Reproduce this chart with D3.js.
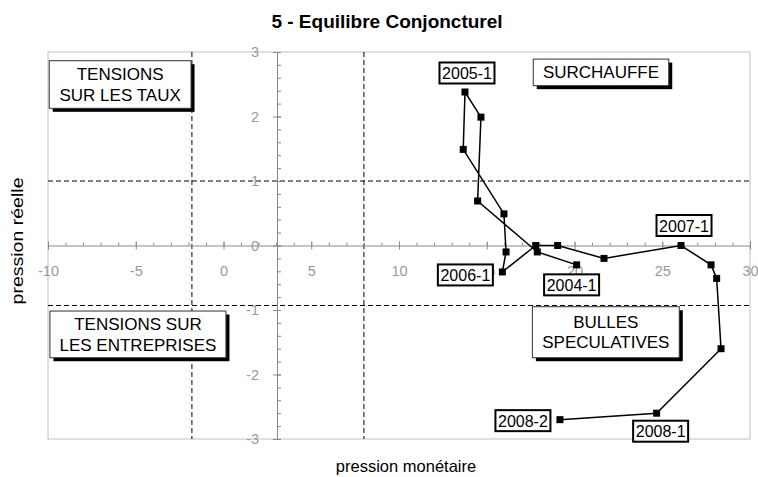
<!DOCTYPE html>
<html>
<head>
<meta charset="utf-8">
<script src="https://cdn.jsdelivr.net/npm/d3@7"></script>
<style>
  body { margin: 0; background: #fff; }
  svg { display: block; font-family: "Liberation Sans", Arial, sans-serif; }
</style>
</head>
<body>
<svg id="chart" width="758" height="477"></svg>
<script>
// Quarters and their coordinates (pression monétaire, pression réelle)
const quarters = [
  '2004-1', '2004-2', '2004-3', '2004-4',
  '2005-1', '2005-2', '2005-3', '2005-4',
  '2006-1', '2006-2', '2006-3', '2006-4',
  '2007-1', '2007-2', '2007-3', '2007-4',
  '2008-1', '2008-2'
];
const monetaire = [
  20.12, 17.88, 14.48, 14.67,
  13.76, 13.66, 15.98, 16.10,
  15.89, 17.79, 19.04, 21.68,
  26.07, 27.78, 28.10, 28.35,
  24.68, 19.17
];
const reelle = [
  -0.30, -0.10, 0.69, 1.99,
  2.38, 1.49, 0.49, -0.10,
  -0.41, 0.00, 0.00, -0.20,
  0.00, -0.30, -0.51, -1.60,
  -2.60, -2.70
];

// Quarters that carry a label
const labelled = ['2004-1', '2005-1', '2006-1', '2007-1', '2008-1', '2008-2'];

// Axis ticks
const xTicks = [-10, -5, 0, 5, 10, 15, 20, 25, 30];
const yTicks = [-3, -2, -1, 0, 1, 2, 3];

// Where the y axis crosses, and the dashed reference lines
const xCross = 3.05;
const xRefs = [-1.8, 8.0];
const yRefs = [1.0, -0.93];

// Quadrant captions
const quadrants = [
  { lines: ['TENSIONS', 'SUR LES TAUX'], x0: -9.93, x1: -1.85, y0: 2.865, y1: 2.127 },
  { lines: ['SURCHAUFFE'], x0: 17.65, x1: 25.37, y0: 2.89, y1: 2.478 },
  { lines: ['TENSIONS SUR', 'LES ENTREPRISES'], x0: -9.89, x1: 0.14, y0: -1.016, y1: -1.74 },
  { lines: ['BULLES', 'SPECULATIVES'], x0: 17.6, x1: 25.97, y0: -0.949, y1: -1.74 }
];

const LEFT = 48;
const RIGHT = 750;
const TOP = 52;
const BOTTOM = 439;

// Label placement relative to its point, in pixels
const LABEL_OFFSET = {
  '2004-1': [-5, 20],
  '2005-1': [2, -19],
  '2006-1': [-37, 3],
  '2007-1': [3, -20],
  '2008-1': [4, 18],
  '2008-2': [-37, 1]
};

const points = quarters.map((q, i) => ({ q, x: monetaire[i], y: reelle[i] }));

// Plain hyphen for negatives, like the spreadsheet does
const fmt = d => String(d);

const svg = d3.select('#chart');

const x = d3.scaleLinear().domain([-10, 30]).range([LEFT, RIGHT]);
const y = d3.scaleLinear().domain([-3, 3]).range([BOTTOM, TOP]);

// Title
svg.append('text')
  .attr('x', 387)
  .attr('y', 28)
  .attr('text-anchor', 'middle')
  .attr('font-size', 19)
  .attr('font-weight', 'bold')
  .text('5 - Equilibre Conjoncturel');

// Plot frame
svg.append('rect')
  .attr('x', LEFT)
  .attr('y', TOP)
  .attr('width', RIGHT - LEFT)
  .attr('height', BOTTOM - TOP)
  .attr('fill', 'none')
  .attr('stroke', '#c0c0c0');

// Dashed reference lines
svg.selectAll('line.xref')
  .data(xRefs)
  .join('line')
    .attr('class', 'xref')
    .attr('x1', d => x(d)).attr('x2', d => x(d))
    .attr('y1', TOP).attr('y2', BOTTOM)
    .attr('stroke', '#000')
    .attr('stroke-dasharray', '5,3');

svg.selectAll('line.yref')
  .data(yRefs)
  .join('line')
    .attr('class', 'yref')
    .attr('x1', LEFT).attr('x2', RIGHT)
    .attr('y1', d => y(d)).attr('y2', d => y(d))
    .attr('stroke', '#000')
    .attr('stroke-dasharray', '5,3');

// X axis (minor ticks up, major ticks across)
const xMinor = d3.range(-10, 31, 1);
const xAxisG = svg.append('g').attr('transform', `translate(0,${y(0)})`);
xAxisG.append('g')
  .call(d3.axisBottom(x).tickValues(xMinor).tickSize(-3).tickFormat(''))
  .call(g => g.select('.domain').remove());
xAxisG.append('g')
  .call(d3.axisBottom(x).tickValues(xTicks).tickSize(4).tickSizeOuter(0).tickPadding(16).tickFormat(fmt))
  .call((g) => {
    g.selectAll('.tick line').attr('y1', -4);
    g.selectAll('.tick text').attr('font-size', 14.5).attr('fill', '#999').attr('font-family', null);
  });
xAxisG.selectAll('line, path').attr('stroke', '#888');

// Y axis (minor ticks right, major ticks across)
const yMinor = d3.range(-3, 3.001, 0.2);
const yAxisG = svg.append('g').attr('transform', `translate(${x(xCross)},0)`);
yAxisG.append('g')
  .call(d3.axisRight(y).tickValues(yMinor).tickSize(4).tickFormat(''))
  .call(g => g.select('.domain').remove());
yAxisG.append('g')
  .call(d3.axisLeft(y).tickValues(yTicks).tickSize(4).tickSizeOuter(0).tickPadding(14).tickFormat(fmt))
  .call((g) => {
    g.selectAll('.tick line').attr('x1', 4);
    g.selectAll('.tick text').attr('font-size', 14.5).attr('fill', '#999').attr('font-family', null);
  });
yAxisG.selectAll('line, path').attr('stroke', '#888');

// Axis titles
svg.append('text')
  .attr('x', 406)
  .attr('y', 472)
  .attr('text-anchor', 'middle')
  .attr('font-size', 16.5)
  .text('pression monétaire');

svg.append('text')
  .attr('transform', `translate(23,241) rotate(-90)`)
  .attr('text-anchor', 'middle')
  .attr('font-size', 17)
  .attr('textLength', 127)
  .attr('lengthAdjust', 'spacingAndGlyphs')
  .text('pression réelle');

// Quadrant captions with drop shadow
const quad = svg.selectAll('g.quadrant')
  .data(quadrants)
  .join('g')
    .attr('class', 'quadrant');

quad.append('rect')
  .attr('x', d => x(d.x0) + 3.5)
  .attr('y', d => y(d.y0) + 3.5)
  .attr('width', d => x(d.x1) - x(d.x0))
  .attr('height', d => y(d.y1) - y(d.y0))
  .attr('fill', '#000');

quad.append('rect')
  .attr('x', d => x(d.x0))
  .attr('y', d => y(d.y0))
  .attr('width', d => x(d.x1) - x(d.x0))
  .attr('height', d => y(d.y1) - y(d.y0))
  .attr('fill', '#fff')
  .attr('stroke', '#333');

quad.each(function addLines (d) {
  const cx = (x(d.x0) + x(d.x1)) / 2;
  const cy = (y(d.y0) + y(d.y1)) / 2;
  const n = d.lines.length;
  d3.select(this).selectAll('text')
    .data(d.lines)
    .join('text')
      .attr('x', cx)
      .attr('y', (t, i) => cy + 6 + (i - (n - 1) / 2) * 20.5)
      .attr('text-anchor', 'middle')
      .attr('font-size', 17)
      .text(t => t);
});

// Trajectory
svg.append('path')
  .datum(points)
  .attr('fill', 'none')
  .attr('stroke', '#000')
  .attr('stroke-width', 1.5)
  .attr('d', d3.line().x(d => x(d.x)).y(d => y(d.y)));

svg.selectAll('rect.marker')
  .data(points)
  .join('rect')
    .attr('class', 'marker')
    .attr('x', d => x(d.x) - 3.5)
    .attr('y', d => y(d.y) - 3.5)
    .attr('width', 7)
    .attr('height', 7)
    .attr('fill', '#000');

// Quarter labels
const lab = svg.selectAll('g.label')
  .data(points.filter(d => labelled.includes(d.q)))
  .join('g')
    .attr('class', 'label')
    .attr('transform', d => `translate(${x(d.x) + LABEL_OFFSET[d.q][0]},${y(d.y) + LABEL_OFFSET[d.q][1]})`);

lab.append('rect')
  .attr('x', -27.5)
  .attr('y', -10.5)
  .attr('width', 55)
  .attr('height', 21)
  .attr('fill', '#fff')
  .attr('stroke', '#000')
  .attr('stroke-width', 2);

lab.append('text')
  .attr('y', 6)
  .attr('text-anchor', 'middle')
  .attr('font-size', 16)
  .text(d => d.q);
</script>
</body>
</html>
